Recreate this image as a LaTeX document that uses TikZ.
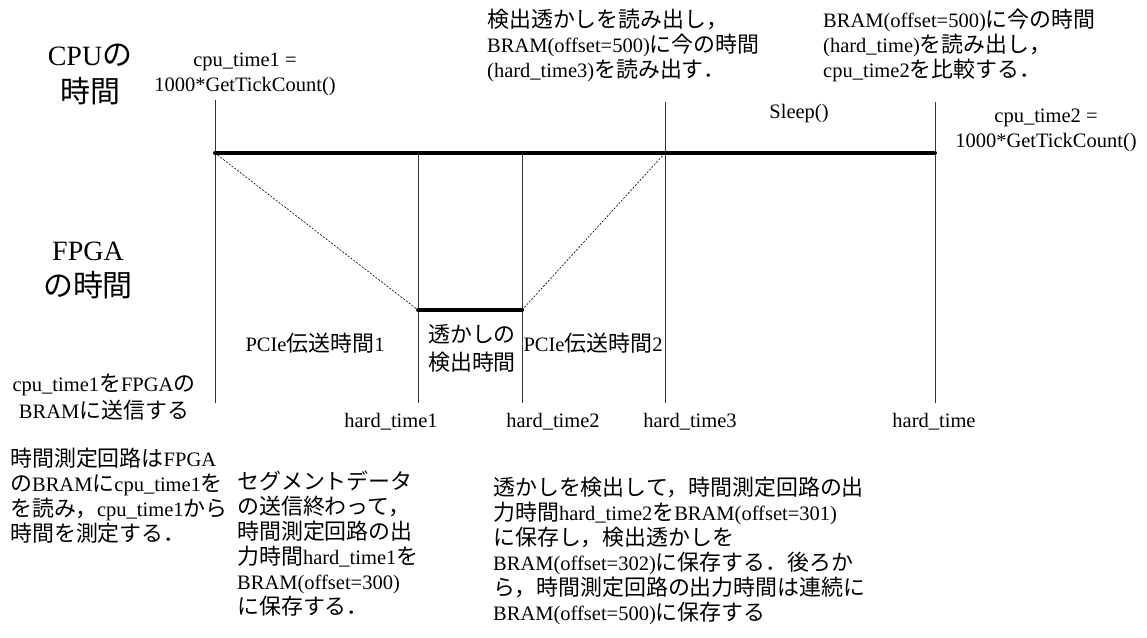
\documentclass[tikz,border=0pt]{standalone}
\usepackage{fontspec}
\setmainfont{Liberation Serif}
\newfontfamily\cjk[Scale=1.07]{Noto Sans CJK JP}
\newcommand{\J}[1]{{\cjk #1}}
\begin{document}
\begin{tikzpicture}[x=1pt,y=-1pt,
  txt/.style={inner sep=0pt,font=\fontsize{20.5}{25}\selectfont},
  big/.style={inner sep=0pt,align=center,font=\fontsize{28}{36}\selectfont},
  para/.style={txt,anchor=north west,align=left},
  vline/.style={line width=0.8pt,black!80},
  thick line/.style={line width=4pt,line cap=round},
  dash line/.style={line width=0.6pt,dash pattern=on 2pt off 1.5pt}]
\useasboundingbox (0,0) rectangle (1147,637);
% coordinates
\coordinate (c1top) at (215,100);
\coordinate (c1) at (215,153);
\coordinate (c1bot) at (215,403);
\coordinate (h1top) at (418,153);
\coordinate (h1) at (418,310);
\coordinate (h1bot) at (418,403);
\coordinate (h2top) at (522,153);
\coordinate (h2) at (522,310);
\coordinate (h2bot) at (522,403);
\coordinate (c3top) at (665,102);
\coordinate (c3) at (665,153);
\coordinate (c3bot) at (665,403);
\coordinate (c4top) at (935,102);
\coordinate (c4) at (935,153);
\coordinate (c4bot) at (935,403);
% vertical lines
\draw[vline] (c1top) -- (c1bot);
\draw[vline] (h1top) -- (h1bot);
\draw[vline] (h2top) -- (h2bot);
\draw[vline] (c3top) -- (c3bot);
\draw[vline] (c4top) -- (c4bot);
% thick lines
\draw[thick line] (c1) -- (c4);
\draw[thick line] (h1) -- (h2);
% dashed
\draw[dash line] (c1) -- (h1);
\draw[dash line] (h2) -- (c3);
% labels
\node[big] (cpu) at (90,74) {CPU\J{の}\\[1pt]\J{時間}};
\node[big] (fpga) at (88,270) {FPGA\\\J{の時間}};
\node[txt,align=center] (t1) at (245,74) {cpu\_time1 =\\1000*GetTickCount()};
\node[txt] (sleep) at (799,114) {Sleep()};
\node[txt,align=center] (t2) at (1046,130) {cpu\_time2 =\\1000*GetTickCount()};
\node[txt] (pcie1) at (315,343) {PCIe\J{伝送時間}1};
\node[txt,align=center,font=\fontsize{20.5}{28}\selectfont] (det) at (472,348) {\J{透かしの}\\\J{検出時間}};
\node[txt] (pcie2) at (593,343) {PCIe\J{伝送時間}2};
\node[txt,align=center,font=\fontsize{20.5}{27}\selectfont] (send) at (104,397) {cpu\_time1\J{を}FPGA\J{の}\\BRAM\J{に送信する}};
\node[txt] (ht1) at (391,422) {hard\_time1};
\node[txt] (ht2) at (553,422) {hard\_time2};
\node[txt] (ht3) at (690,422) {hard\_time3};
\node[txt] (ht) at (934,422) {hard\_time};
% paragraphs
\node[para] (p1) at (487,9) {\J{検出透かしを読み出し，}\\BRAM(offset=500)\J{に今の時間}\\(hard\_time3)\J{を読み出す．}};
\node[para] (p2) at (823,9) {BRAM(offset=500)\J{に今の時間}\\(hard\_time)\J{を読み出し，}\\cpu\_time2\J{を比較する．}};
\node[para] (p3) at (10,448) {\J{時間測定回路は}FPGA\\\J{の}BRAM\J{に}cpu\_time1\J{を}\\\J{を読み，}cpu\_time1\J{から}\\\J{時間を測定する．}};
\node[para] (p4) at (237,471) {\J{セグメントデータ}\\\J{の送信終わって，}\\\J{時間測定回路の出}\\\J{力時間}hard\_time1\J{を}\\BRAM(offset=300)\\\J{に保存する．}};
\node[para] (p5) at (493,477) {\J{透かしを検出して，時間測定回路の出}\\\J{力時間}hard\_time2\J{を}BRAM(offset=301)\\\J{に保存し，検出透かしを}\\BRAM(offset=302)\J{に保存する．後ろか}\\\J{ら，時間測定回路の出力時間は連続に}\\BRAM(offset=500)\J{に保存する}};
\end{tikzpicture}
\end{document}
